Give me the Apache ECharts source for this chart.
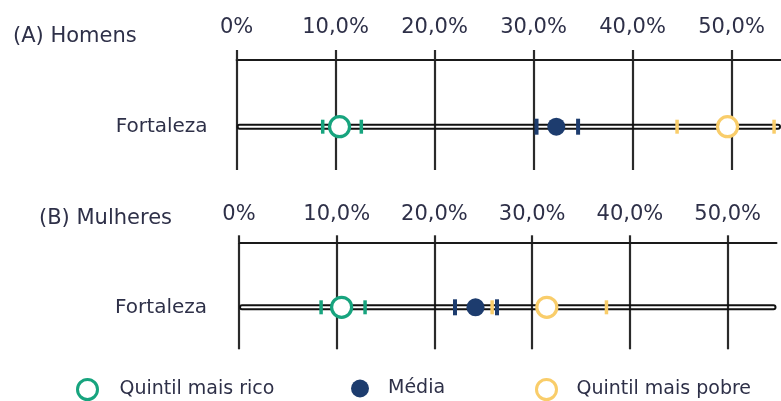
<!DOCTYPE html>
<html>
<head>
<meta charset="utf-8">
<script src="https://cdn.jsdelivr.net/npm/echarts@6/dist/echarts.min.js"></script>
<style>
  html, body { margin: 0; padding: 0; background: #fff; }
  #chart { width: 781px; height: 401px; }
</style>
</head>
<body>
<div id="chart"></div>
<script>
// dados
const categories = ['Fortaleza'];
const seriesNames = ['Quintil mais rico', 'Média', 'Quintil mais pobre'];
const tickValues = [0, 10, 20, 30, 40, 50];
const tickLabels = ['0%', '10,0%', '20,0%', '30,0%', '40,0%', '50,0%'];
const axisMax = 55;

// (A) Homens: ponto, limite inferior, limite superior (%)
const homensValues = [10.4, 32.3, 49.6];
const homensLow = [8.7, 30.3, 44.5];
const homensHigh = [12.6, 34.5, 54.3];

// (B) Mulheres
const mulheresValues = [10.5, 24.2, 31.5];
const mulheresLow = [8.4, 22.1, 25.9];
const mulheresHigh = [12.9, 26.4, 37.6];

const colors = ['#17a47e', '#1d3c6e', '#f9cd6a'];
const textColor = '#2e3048';
const font = 'DejaVu Sans';

const chart = echarts.init(document.getElementById('chart'));

// moldura de cada painel (linha do topo, rótulos, linhas verticais)
const frameAxis = (gridIndex, tickLen, labelMargin) => ({
    gridIndex: gridIndex,
    type: 'value',
    position: 'top',
    min: 0,
    max: axisMax,
    interval: 10,
    axisLine: { show: true, onZero: false, lineStyle: { color: '#1a1a1a', width: 2 } },
    axisTick: { show: true, length: tickLen, customValues: tickValues, lineStyle: { color: '#2a2a2a', width: 2.2 } },
    axisLabel: {
        customValues: tickValues,
        margin: labelMargin,
        color: textColor,
        fontSize: 21,
        fontFamily: font,
        formatter: (v) => tickLabels[tickValues.indexOf(v)]
    },
    splitLine: { show: true, lineStyle: { color: '#2a2a2a', width: 2.2 } }
});

const dataYAxis = (gridIndex, margin) => ({
    gridIndex: gridIndex,
    type: 'category',
    data: categories,
    axisLine: { show: false },
    axisTick: { show: false },
    axisLabel: { margin: margin, color: textColor, fontSize: 20, fontFamily: font }
});

// séries de um painel
const panelSeries = (axisIndex, values, low, high) => {
    const list = [{
        type: 'bar',
        xAxisIndex: axisIndex,
        yAxisIndex: axisIndex,
        data: [axisMax],
        barWidth: 6,
        silent: true,
        itemStyle: { color: 'rgba(0,0,0,0)', borderColor: '#111', borderWidth: 2, borderRadius: 3.5 }
    }];
    seriesNames.forEach((name, i) => {
        list.push({
            type: 'scatter',
            name: name + ' IC',
            xAxisIndex: axisIndex,
            yAxisIndex: axisIndex,
            symbol: 'rect',
            symbolSize: i === 1 ? [4, 16] : [3.5, 14],
            data: [[low[i], categories[0]], [high[i], categories[0]]],
            itemStyle: { color: colors[i], opacity: 1 },
            z: 3
        });
        list.push({
            type: 'scatter',
            name: name,
            xAxisIndex: axisIndex,
            yAxisIndex: axisIndex,
            symbol: 'circle',
            symbolSize: i === 1 ? 18 : 20,
            data: [[values[i], categories[0]]],
            itemStyle: i === 1
                ? { color: colors[i], opacity: 1 }
                : { color: '#fff', borderColor: colors[i], borderWidth: 3.2, opacity: 1 },
            z: 4
        });
    });
    return list;
};

const legendItem = (i, left, size, gap) => ({
    data: [seriesNames[i]],
    left: left,
    top: 388 - size / 2,
    padding: 0,
    icon: 'circle',
    itemWidth: size,
    itemHeight: size,
    itemStyle: i === 1
        ? { color: colors[i], borderWidth: 0 }
        : { color: '#fff', borderColor: colors[i], borderWidth: 3 },
    textStyle: { color: textColor, fontSize: 19, fontFamily: font, padding: [0, 0, 0, gap] }
});

chart.setOption({
    animation: false,
    title: [
        { text: '(A) Homens', left: 13, top: 26, padding: 0,
          textStyle: { color: textColor, fontSize: 21, fontWeight: 'normal', fontFamily: font } },
        { text: '(B) Mulheres', left: 39, top: 208, padding: 0,
          textStyle: { color: textColor, fontSize: 21, fontWeight: 'normal', fontFamily: font } }
    ],
    grid: [
        { left: 236.6, top: 60, width: 550.5, height: 110 },
        { left: 239, top: 242.3, width: 537.5, height: 107 },
        { left: 236.6, top: 90, width: 550.5, height: 73.4 },
        { left: 239, top: 270, width: 537.5, height: 74.6 }
    ],
    xAxis: [
        frameAxis(0, 10, 22),
        frameAxis(1, 7, 17),
        { gridIndex: 2, type: 'value', min: 0, max: axisMax, show: false },
        { gridIndex: 3, type: 'value', min: 0, max: axisMax, show: false }
    ],
    yAxis: [
        { gridIndex: 0, type: 'value', min: 0, max: 1, show: false },
        { gridIndex: 1, type: 'value', min: 0, max: 1, show: false },
        dataYAxis(2, 29),
        dataYAxis(3, 32)
    ],
    legend: [
        legendItem(0, 76, 20, 17),
        legendItem(1, 351, 18, 14),
        legendItem(2, 535, 20, 15)
    ],
    series: [
        ...panelSeries(2, homensValues, homensLow, homensHigh),
        ...panelSeries(3, mulheresValues, mulheresLow, mulheresHigh)
    ]
});

window.addEventListener('resize', function() {
    chart.resize();
});
</script>
</body>
</html>
